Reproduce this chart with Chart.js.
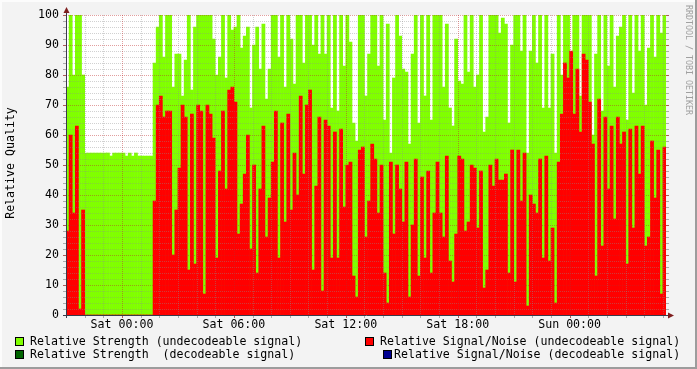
<!DOCTYPE html>
<html>
<head>
<meta charset="utf-8">
<script src="https://cdn.jsdelivr.net/npm/chart.js@4.4.1/dist/chart.umd.min.js"></script>
<style>
  html, body { margin: 0; padding: 0; background: #f3f3f3; }
  canvas { display: block; }
</style>
</head>
<body>
<canvas id="grafico" width="697" height="369"></canvas>
<script>
// one column every 10 minutes, starting Fri 21:00 (hours relative to Sat 00:00)
const startHour = -3;
const stepHours = 1 / 6;

// Relative Strength (undecodeable signal)
const strength = [
  76, 100, 80, 100, 100, 80, 54, 54, 54, 54, 54, 54, 54, 54, 53, 54, 54, 54, 54, 53,
  54, 53, 54, 53, 53, 53, 53, 53, 84, 96, 100, 86, 100, 100, 76, 87, 87, 73, 85, 100,
  75, 96, 100, 100, 100, 100, 100, 92, 80, 86, 100, 79, 100, 95, 96, 100, 89, 93, 96, 69,
  90, 96, 82, 97, 72, 82, 100, 100, 86, 100, 76, 100, 92, 77, 100, 100, 84, 100, 100, 90,
  100, 87, 100, 87, 100, 69, 100, 68, 100, 83, 100, 91, 64, 58, 100, 100, 73, 87, 100, 100,
  83, 100, 65, 97, 54, 79, 100, 93, 82, 81, 57, 87, 100, 64, 100, 73, 100, 65, 100, 100,
  100, 76, 97, 69, 63, 92, 78, 77, 100, 81, 100, 76, 80, 100, 61, 66, 100, 100, 100, 94,
  99, 97, 64, 90, 100, 100, 88, 100, 54, 88, 100, 84, 100, 69, 100, 69, 87, 54, 100, 80,
  100, 100, 86, 100, 100, 73, 100, 100, 100, 60, 87, 100, 68, 100, 83, 100, 76, 93, 96, 100,
  65, 100, 74, 100, 88, 100, 70, 89, 100, 86, 100, 94, 100
];

// Relative Signal/Noise (undecodeable signal)
const snr = [
  28, 60, 34, 63, 2, 35, 0, 0, 0, 0, 0, 0, 0, 0, 0, 0, 0, 0, 0, 0,
  0, 0, 0, 0, 0, 0, 0, 0, 38, 70, 73, 66, 68, 68, 20, 35, 49, 70, 66, 15,
  67, 17, 70, 68, 7, 70, 67, 59, 19, 48, 68, 42, 75, 76, 71, 27, 37, 47, 60, 22,
  50, 14, 42, 63, 26, 39, 51, 68, 19, 64, 31, 67, 35, 54, 40, 73, 47, 70, 75, 15,
  43, 66, 8, 65, 63, 19, 61, 19, 62, 36, 50, 51, 13, 6, 55, 56, 26, 38, 57, 52,
  34, 50, 14, 4, 51, 27, 50, 42, 31, 51, 6, 30, 52, 13, 46, 19, 48, 14, 34, 51,
  34, 26, 53, 18, 11, 27, 53, 52, 28, 31, 50, 49, 29, 48, 9, 15, 50, 43, 52, 45,
  45, 47, 14, 55, 11, 55, 38, 54, 3, 40, 37, 34, 52, 19, 53, 18, 29, 4, 51, 67,
  84, 79, 88, 67, 82, 61, 87, 85, 71, 57, 13, 72, 23, 66, 42, 63, 32, 66, 57, 61,
  17, 62, 29, 63, 47, 63, 23, 26, 58, 39, 55, 7, 56
];

const timeTicks = [0, 6, 12, 18, 24];
const timeLabels = ["Sat 00:00", "Sat 06:00", "Sat 12:00", "Sat 18:00", "Sun 00:00"];

const legendLabels = [
  "Relative Strength (undecodeable signal)",
  "Relative Strength  (decodeable signal)",
  "Relative Signal/Noise (undecodeable signal)",
  "Relative Signal/Noise (decodeable signal)"
];
const legendColors = ["#80ff00", "#006400", "#ff0000", "#000090"];

const FONT = '"DejaVu Sans Mono", monospace';
Chart.defaults.font.family = FONT;
Chart.defaults.font.size = 11.6;

function toPoints(values) {
  return values.map((v, i) => ({ x: startHour + (i + 0.5) * stepHours, y: v }));
}

function line(ctx, x1, y1, x2, y2) {
  ctx.beginPath();
  ctx.moveTo(x1, y1);
  ctx.lineTo(x2, y2);
  ctx.stroke();
}

const rrdLook = {
  id: "rrdLook",
  beforeDraw(chart) {
    const ctx = chart.ctx, a = chart.chartArea, w = chart.width, h = chart.height;
    ctx.save();
    ctx.fillStyle = "#f3f3f3";
    ctx.fillRect(0, 0, w, h);
    ctx.fillStyle = "#fcfcfc";
    ctx.fillRect(0, 0, w, 2);
    ctx.fillRect(0, 0, 2, h);
    ctx.fillStyle = "#9c9c9c";
    ctx.fillRect(w - 2, 0, 2, h);
    ctx.fillRect(0, h - 2, w, 2);
    ctx.fillStyle = "#ffffff";
    ctx.fillRect(a.left, a.top, a.right - a.left, a.bottom - a.top);
    ctx.restore();
  },
  afterDatasetsDraw(chart) {
    const ctx = chart.ctx, a = chart.chartArea;
    const xs = chart.scales.x, ys = chart.scales.y;
    ctx.save();
    ctx.lineWidth = 1;

    // horizontal grid, minor every 2, major every 10
    for (let v = 2; v <= 100; v += 2) {
      const y = Math.round(ys.getPixelForValue(v)) + 0.5;
      const major = v % 10 === 0;
      ctx.setLineDash([1, 1]);
      ctx.strokeStyle = major ? "rgba(190,40,40,0.45)" : "rgba(140,140,140,0.4)";
      line(ctx, a.left, y, a.right, y);
      ctx.setLineDash([]);
      ctx.strokeStyle = major ? "rgba(150,40,40,0.75)" : "rgba(140,140,140,0.7)";
      line(ctx, a.left - 3, y, a.left, y);
      line(ctx, a.right, y, a.right + 3, y);
    }
    // vertical grid, minor every hour, major every 6 hours
    for (let hr = -2; hr <= 29; hr++) {
      const x = Math.round(xs.getPixelForValue(hr)) + 0.5;
      const major = hr % 6 === 0;
      ctx.setLineDash([1, 1]);
      ctx.strokeStyle = major ? "rgba(190,40,40,0.45)" : "rgba(140,140,140,0.4)";
      line(ctx, x, a.top, x, a.bottom);
      ctx.setLineDash([]);
      ctx.strokeStyle = major ? "rgba(150,40,40,0.75)" : "rgba(140,140,140,0.7)";
      line(ctx, x, a.bottom, x, a.bottom + 3);
    }

    // axes
    ctx.strokeStyle = "#3a3a4a";
    line(ctx, a.left - 3, a.bottom + 0.5, a.right + 4, a.bottom + 0.5);
    line(ctx, a.left + 0.5, a.bottom + 3, a.left + 0.5, a.top - 3);
    ctx.fillStyle = "#7f1f1f";
    ctx.beginPath();
    ctx.moveTo(a.left + 0.5, a.top - 8);
    ctx.lineTo(a.left - 2.5, a.top - 2);
    ctx.lineTo(a.left + 3.5, a.top - 2);
    ctx.closePath();
    ctx.fill();
    ctx.beginPath();
    ctx.moveTo(a.right + 8, a.bottom + 0.5);
    ctx.lineTo(a.right + 2, a.bottom - 2.5);
    ctx.lineTo(a.right + 2, a.bottom + 3.5);
    ctx.closePath();
    ctx.fill();
    ctx.restore();
  },
  afterDraw(chart) {
    const ctx = chart.ctx;
    ctx.save();
    ctx.fillStyle = "#000";
    ctx.textBaseline = "middle";

    // y axis title
    ctx.save();
    ctx.font = "11.6px " + FONT;
    ctx.translate(11, 163);
    ctx.rotate(-Math.PI / 2);
    ctx.textAlign = "center";
    ctx.fillText("Relative Quality", 0, 0);
    ctx.restore();

    // watermark on the right
    ctx.save();
    ctx.font = "8.3px " + FONT;
    ctx.fillStyle = "#a0a0a0";
    ctx.translate(688, 5);
    ctx.rotate(Math.PI / 2);
    ctx.textAlign = "left";
    ctx.fillText("RRDTOOL / TOBI OETIKER", 0, 0);
    ctx.restore();

    // legend: box position and text start for each entry
    const boxes = [[15, 337, 30], [15, 350, 30], [365, 337, 380], [383, 350, 394]];
    ctx.font = "11.6px " + FONT;
    ctx.textAlign = "left";
    legendLabels.forEach((label, i) => {
      const [bx, by, tx] = boxes[i];
      ctx.fillStyle = "#000";
      ctx.fillRect(bx, by, 9, 9);
      ctx.fillStyle = legendColors[i];
      ctx.fillRect(bx + 1, by + 1, 7, 7);
      ctx.fillStyle = "#000";
      ctx.fillText(label, tx, by + 4.5);
    });
    ctx.restore();
  }
};

const grafico = new Chart(document.getElementById("grafico"), {
  type: "bar",
  data: {
    datasets: [
      {
        label: legendLabels[2],
        data: toPoints(snr),
        backgroundColor: legendColors[2],
        borderWidth: 0,
        grouped: false,
        barPercentage: 1,
        categoryPercentage: 1
      },
      {
        label: legendLabels[0],
        data: toPoints(strength),
        backgroundColor: legendColors[0],
        borderWidth: 0,
        grouped: false,
        barPercentage: 1,
        categoryPercentage: 1
      }
    ]
  },
  options: {
    responsive: false,
    animation: false,
    devicePixelRatio: 1,
    layout: { padding: { left: 0, top: 15, right: 31, bottom: 0 } },
    plugins: { legend: { display: false }, tooltip: { enabled: false } },
    scales: {
      x: {
        type: "linear",
        min: startHour,
        max: startHour + strength.length * stepHours,
        offset: false,
        grid: { display: false, drawTicks: false },
        border: { display: false },
        afterBuildTicks: s => { s.ticks = timeTicks.map(v => ({ value: v })); },
        afterFit: s => { s.height = 54; },
        ticks: {
          autoSkip: false,
          maxRotation: 0,
          padding: 3,
          color: "#000",
          callback: (v, i) => timeLabels[i]
        }
      },
      y: {
        min: 0,
        max: 100,
        grid: { display: false, drawTicks: false },
        border: { display: false },
        afterFit: s => { s.width = 66; },
        ticks: { stepSize: 10, padding: 7, color: "#000" }
      }
    }
  },
  plugins: [rrdLook]
});
</script>
</body>
</html>
